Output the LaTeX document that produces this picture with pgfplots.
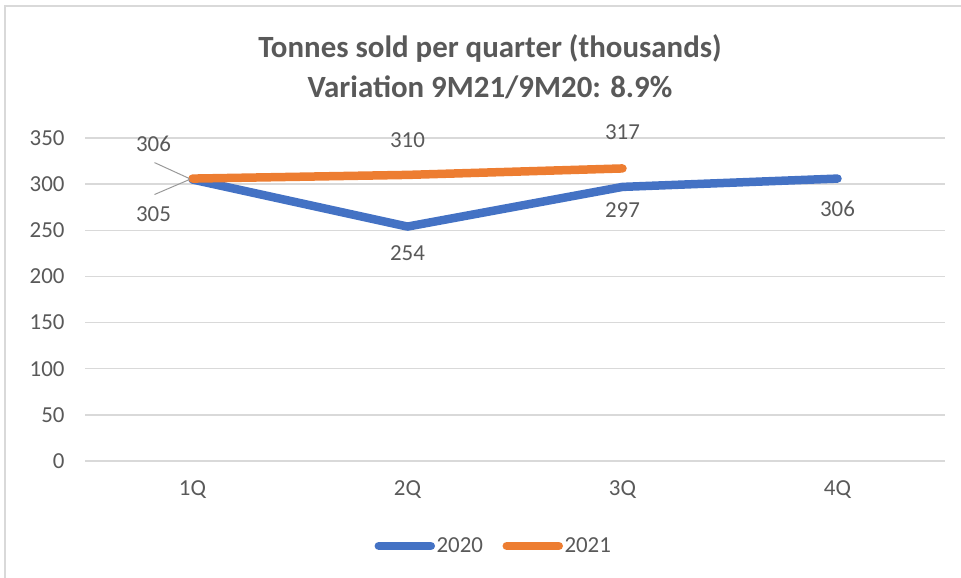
\documentclass[border=0pt]{standalone}
\usepackage{fontspec}
\setmainfont{Carlito}
\usepackage{pgfplots}
\pgfplotsset{compat=1.18}
\definecolor{c2020}{HTML}{4472C4}
\definecolor{c2021}{HTML}{ED7D31}
\definecolor{gridc}{HTML}{D9D9D9}
\definecolor{txt}{HTML}{595959}

\begin{document}
\begin{tikzpicture}[x=1bp,y=1bp]
\useasboundingbox (0,0) rectangle (961,578);
\draw[gridc, line width=1.5bp] (5,0) -- (5,572) -- (961,572);
\node[font=\bfseries\fontsize{31}{40}\selectfont, text=txt, align=center] at (490,511)
  {Tonnes sold per quarter (thousands)\\Variation 9M21/9M20: 8.9\%};
\begin{axis}[
  at={(85bp,117bp)}, anchor=south west,
  scale only axis, width=860bp, height=323bp,
  xmin=-0.5, xmax=3.5, ymin=0, ymax=350,
  ytick={0,50,...,350},
  xtick={0,1,2,3}, xticklabels={1Q,2Q,3Q,4Q},
  axis line style={draw=none}, major tick length=0pt,
  ymajorgrids, grid style={gridc, line width=1.5bp},
  tick label style={font=\fontsize{23}{27}\selectfont, text=txt},
  /pgf/number format/assume math mode=true,
  yticklabel style={xshift=-17bp},
  xticklabel style={yshift=-16bp},
  clip=false,
  legend columns=2,
  legend style={at={(0.475,-0.263)}, anchor=center, draw=none, fill=none,
    font=\fontsize{23}{27}\selectfont, text=txt,
    nodes={inner xsep=1.5bp},
    /tikz/every even column/.append style={column sep=18bp}},
  legend image code/.code={\draw[#1] (4bp,0bp) -- (56bp,0bp);},
]
\addplot[c2020, line width=8.5bp, line cap=round, line join=round]
  coordinates {(0,305)(1,254)(2,297)(3,306)};
\addlegendentry{2020}
\addplot[c2021, line width=8.5bp, line cap=round, line join=round]
  coordinates {(0,306)(1,310)(2,317)};
\addlegendentry{2021}

\begin{scope}[font=\fontsize{23}{27}\selectfont, text=txt]
\node at ([yshift=-27bp]axis cs:1,254) {254};
\node at ([yshift=-23bp]axis cs:2,297) {297};
\node at ([yshift=-30bp]axis cs:3,306) {306};
\node at ([yshift=35bp]axis cs:1,310) {310};
\node at ([yshift=36bp]axis cs:2,317) {317};
\node at ([shift={(-39bp,35bp)}]axis cs:0,306) {306};
\node at ([shift={(-39bp,-35bp)}]axis cs:0,305) {305};
\end{scope}
\draw[black!40, line width=1bp] ([shift={(-38bp,16bp)}]axis cs:0,306) -- ([shift={(-3bp,0bp)}]axis cs:0,306);
\draw[black!40, line width=1bp] ([shift={(-38bp,-15bp)}]axis cs:0,305) -- ([shift={(-3bp,0bp)}]axis cs:0,305);
\end{axis}
\end{tikzpicture}
\end{document}
